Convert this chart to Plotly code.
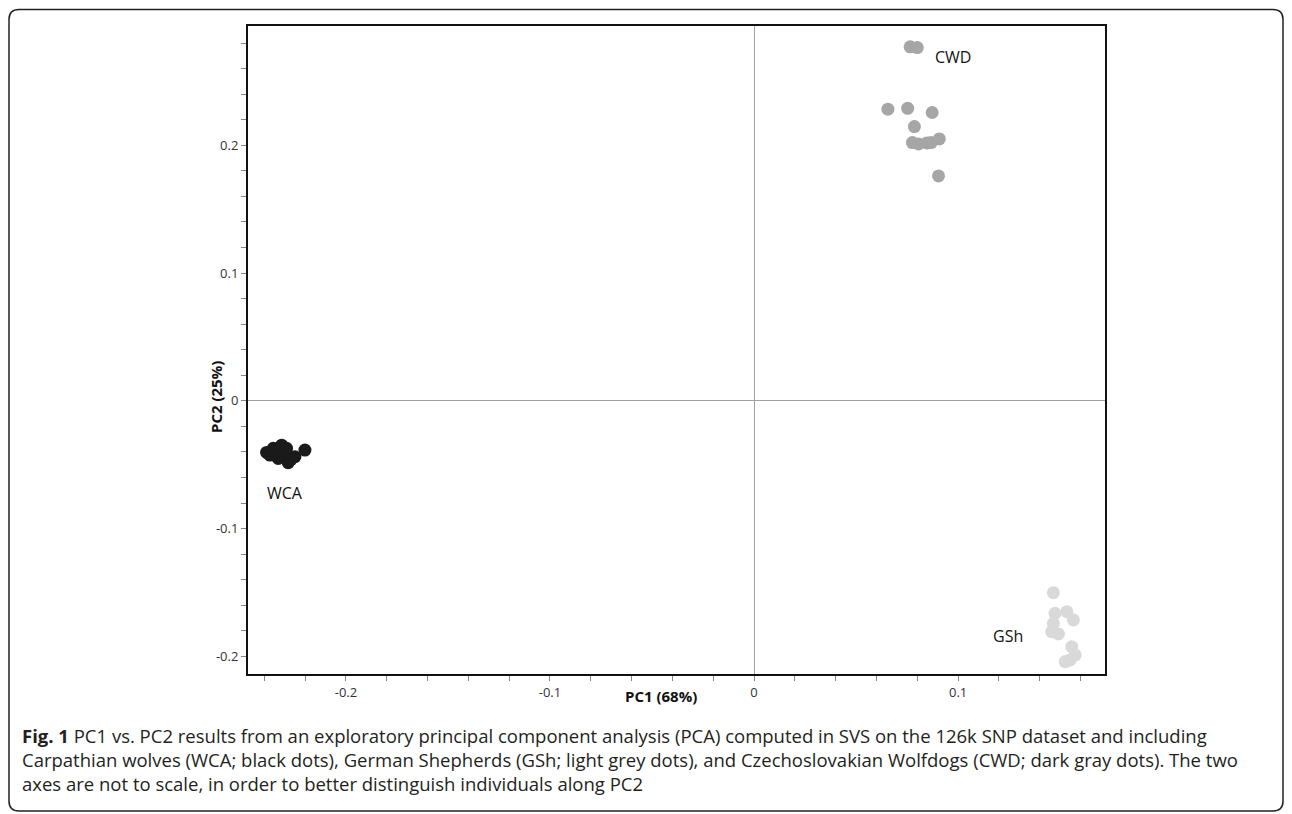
import numpy as np
import plotly.graph_objects as go

# ---- data ----
wca_pc1 = [-0.2389, -0.2356, -0.2315, -0.2299, -0.2332, -0.2283, -0.2250, -0.2201, -0.2373, -0.2291, -0.2340, -0.2270]
wca_pc2 = [-0.0404, -0.0372, -0.0347, -0.0411, -0.0451, -0.0485, -0.0438, -0.0386, -0.0425, -0.0372, -0.0395, -0.0460]

cwd_pc1 = [0.0765, 0.0800, 0.0656, 0.0753, 0.0873, 0.0786, 0.0776, 0.0806, 0.0847, 0.0868, 0.0908, 0.0904]
cwd_pc2 = [0.2770, 0.2764, 0.2282, 0.2289, 0.2256, 0.2146, 0.2021, 0.2010, 0.2018, 0.2021, 0.2049, 0.1760]

gsh_pc1 = [0.1467, 0.1475, 0.1533, 0.1565, 0.1467, 0.1459, 0.1492, 0.1557, 0.1574, 0.1525, 0.1549]
gsh_pc2 = [-0.1502, -0.1663, -0.1650, -0.1715, -0.1741, -0.1807, -0.1825, -0.1924, -0.1989, -0.2041, -0.2028]

group_names = ["WCA", "CWD", "GSh"]
label_pc1 = [-0.2299, 0.0975, 0.1245]
label_pc2 = [-0.0722, 0.2688, -0.1840]

x_tickvals = [-0.2, -0.1, 0, 0.1]
x_ticktext = ["-0.2", "-0.1", "0", "0.1"]
y_tickvals = [-0.2, -0.1, 0, 0.1, 0.2]
y_ticktext = ["-0.2", "-0.1", "0", "0.1", "0.2"]

x_title = "PC1 (68%)"
y_title = "PC2 (25%)"

caption_lines = [
    "<b>Fig. 1</b> PC1 vs. PC2 results from an exploratory principal component analysis (PCA) computed in SVS on the 126k SNP dataset and including",
    "Carpathian wolves (WCA; black dots), German Shepherds (GSh; light grey dots), and Czechoslovakian Wolfdogs (CWD; dark gray dots). The two",
    "axes are not to scale, in order to better distinguish individuals along PC2",
]

# ---- figure ----
OFF = 8  # page body margin
W, H = 1292 - OFF, 814 - OFF
L, T = 248 - OFF, 26 - OFF
R, B = W - (1105 - OFF), H - (674 - OFF)
pw, ph = W - L - R, H - T - B

def px(x):
    return (x - OFF - L) / pw

def py(y):
    return (H - B - (y - OFF)) / ph

fig = go.Figure()
fig.add_trace(go.Scatter(x=wca_pc1, y=wca_pc2, mode="markers", name="WCA",
                         marker=dict(size=13, color="#1a1a1a", line=dict(width=0))))
fig.add_trace(go.Scatter(x=cwd_pc1, y=cwd_pc2, mode="markers", name="CWD",
                         marker=dict(size=13, color="#a6a6a6", line=dict(width=0))))
fig.add_trace(go.Scatter(x=gsh_pc1, y=gsh_pc2, mode="markers", name="GSh",
                         marker=dict(size=13, color="#d9d9d9", line=dict(width=0))))

for name, lx, ly in zip(group_names, label_pc1, label_pc2):
    fig.add_annotation(x=lx, y=ly, text=name, showarrow=False,
                       font=dict(family="Open Sans", size=16, color="#111111"))

tickfont = dict(family="Open Sans", size=13, color="#333333")
common = dict(showgrid=False, zeroline=True, zerolinecolor="#a0a0a0", zerolinewidth=1,
              showline=True, linecolor="#111111", linewidth=2, mirror=True,
              ticks="outside", ticklen=5, tickcolor="#888888", tickwidth=1,
              tickfont=tickfont, tickmode="array")

fig.update_xaxes(range=[-0.248, 0.172], tickvals=x_tickvals, ticktext=x_ticktext,
                 minor=dict(tickmode="linear", tick0=0, dtick=0.02, ticks="outside",
                            ticklen=5, tickcolor="#888888", tickwidth=1),
                 **common)
fig.update_yaxes(range=[-0.2138, 0.2933], tickvals=y_tickvals, ticktext=y_ticktext,
                 minor=dict(tickmode="linear", tick0=0, dtick=0.02, ticks="outside",
                            ticklen=5, tickcolor="#888888", tickwidth=1),
                 **common)

# axis titles
fig.add_annotation(xref="paper", yref="paper", x=px(661), y=py(708), text="<b>%s</b>" % x_title,
                   showarrow=False, font=dict(family="Open Sans", size=15, color="#111111"))
fig.add_annotation(xref="paper", yref="paper", x=px(204), y=py(397), text="<b>%s</b>" % y_title,
                   showarrow=False, textangle=-90, font=dict(family="Open Sans", size=15, color="#111111"))

# caption (one block, plotly line spacing 1.3em ~ reference spacing)
fig.add_annotation(xref="paper", yref="paper", x=px(20), y=py(759), text="<br>".join(caption_lines),
                   showarrow=False, xanchor="left", yanchor="middle", align="left",
                   font=dict(family="Open Sans", size=18.5, color="#231f20"))

# outer rounded frame
x0, x1, y0, y1 = px(9), px(1283), py(9.5), py(811)
rx, ry = 10 / pw, 10 / ph
path = (f"M {x0+rx},{y0} L {x1-rx},{y0} Q {x1},{y0} {x1},{y0-ry} "
        f"L {x1},{y1+ry} Q {x1},{y1} {x1-rx},{y1} "
        f"L {x0+rx},{y1} Q {x0},{y1} {x0},{y1+ry} "
        f"L {x0},{y0-ry} Q {x0},{y0} {x0+rx},{y0} Z")
fig.add_shape(type="path", xref="paper", yref="paper", path=path,
              line=dict(color="#222222", width=1.5), layer="below")

fig.update_layout(width=W, height=H, margin=dict(l=L, r=R, t=T, b=B, autoexpand=False),
                  plot_bgcolor="white", paper_bgcolor="white", showlegend=False)

fig.write_html("out.html")
